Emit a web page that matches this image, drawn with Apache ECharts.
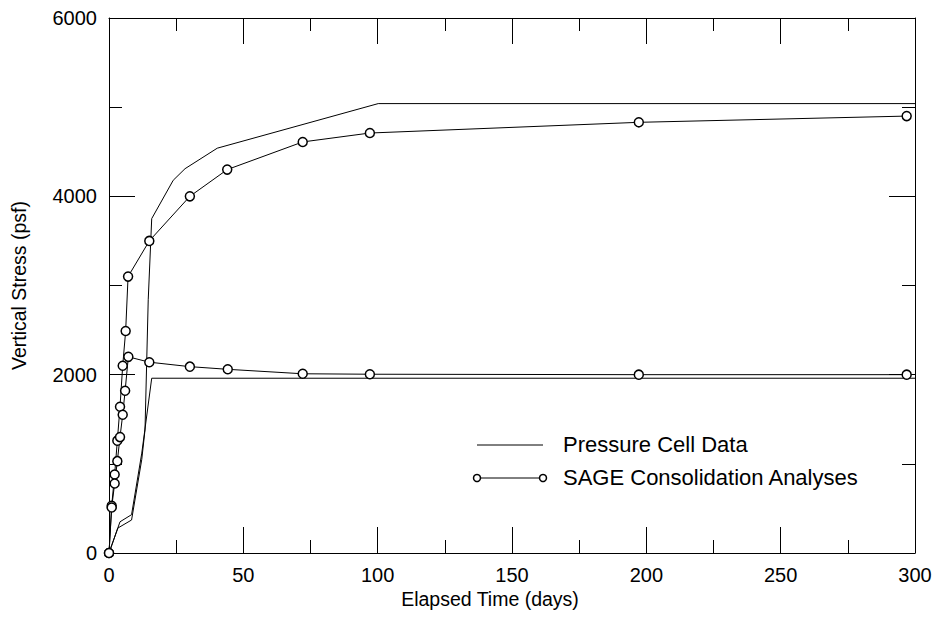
<!DOCTYPE html>
<html>
<head>
<meta charset="utf-8">
<script src="https://cdn.jsdelivr.net/npm/echarts@6/dist/echarts.min.js"></script>
<style>
  html, body { margin: 0; padding: 0; background: #fff; }
  #chart { width: 940px; height: 643px; }
</style>
</head>
<body>
<div id="chart"></div>
<script>
// pressure cell readings (two cells)
const cell1Days = [0, 3.3, 8.4, 12.2, 13.4, 14.6, 15.9, 23.9, 28.3, 40.3, 100.2, 300]
const cell1Stress = [0, 280, 370, 1050, 1380, 2840, 3750, 4180, 4310, 4540, 5040, 5040]
const cell2Days = [0, 4.1, 8.4, 12.2, 15.9, 300]
const cell2Stress = [0, 350, 430, 1120, 1960, 1960]

// SAGE consolidation analyses (two curves)
const sageUpperDays = [0, 1, 2.1, 3.1, 4.1, 5.1, 6.2, 7.1, 15, 30.1, 44, 72.1, 97.1, 197.2, 296.9]
const sageUpperStress = [0, 530, 880, 1260, 1640, 2100, 2490, 3100, 3500, 4000, 4300, 4610, 4710, 4830, 4900]
const sageLowerDays = [0, 1, 2.1, 3.1, 4.1, 5.1, 6, 7.2, 15, 30.1, 44.2, 72.1, 97.1, 197.2, 296.9]
const sageLowerStress = [0, 510, 780, 1030, 1300, 1550, 1820, 2200, 2140, 2090, 2060, 2010, 2005, 2000, 2000]

const xTicks = [0, 50, 100, 150, 200, 250, 300]
const yTicks = [0, 2000, 4000, 6000]

const FONT = 'Liberation Sans, Arial, sans-serif'

function pairs(xs, ys) {
  return xs.map((x, i) => [x, ys[i]])
}

function axisCommon(pos, min, max, interval, showLabel) {
  return {
    type: 'value',
    position: pos,
    min: min,
    max: max,
    interval: interval,
    axisLine: { show: true, onZero: false, lineStyle: { color: '#000', width: 1 } },
    axisTick: { show: true, inside: true, length: 26, lineStyle: { color: '#000', width: 1 } },
    minorTick: { show: true, splitNumber: 2, length: 13, lineStyle: { color: '#000', width: 1 } },
    splitLine: { show: false },
    axisLabel: {
      show: showLabel,
      color: '#000',
      fontSize: 20,
      fontFamily: FONT,
      margin: 12,
      formatter: (v) => String(v)
    }
  }
}

const chart = echarts.init(document.getElementById('chart'), null, { renderer: 'svg' })

const xBottom = axisCommon('bottom', xTicks[0], xTicks[xTicks.length - 1], 50, true)
xBottom.name = 'Elapsed Time (days)'
xBottom.nameLocation = 'middle'
xBottom.nameGap = 36
xBottom.nameMoveOverlap = false
xBottom.nameTextStyle = { color: '#000', fontSize: 19.5, fontFamily: FONT, padding: [0, 44, 0, 0] }

const yLeft = axisCommon('left', yTicks[0], yTicks[yTicks.length - 1], 2000, true)
yLeft.name = 'Vertical Stress (psf)'
yLeft.nameLocation = 'middle'
yLeft.nameGap = 80
yLeft.nameMoveOverlap = false
yLeft.nameTextStyle = { color: '#000', fontSize: 19.5, fontFamily: FONT }

const circleStyle = { color: '#fff', borderColor: '#000', borderWidth: 1.5 }

const option = {
  animation: false,
  backgroundColor: '#fff',
  grid: { left: 109, right: 25, top: 18, bottom: 90 },
  xAxis: [xBottom, axisCommon('top', xTicks[0], xTicks[xTicks.length - 1], 50, false)],
  yAxis: [yLeft, axisCommon('right', yTicks[0], yTicks[yTicks.length - 1], 2000, false)],
  series: [
    {
      name: 'SAGE Consolidation Analyses',
      type: 'line',
      data: pairs(sageUpperDays, sageUpperStress),
      symbol: 'circle',
      symbolSize: 9,
      itemStyle: circleStyle,
      lineStyle: { color: '#000', width: 1 }
    },
    {
      name: 'SAGE Consolidation Analyses',
      type: 'line',
      data: pairs(sageLowerDays, sageLowerStress),
      symbol: 'circle',
      symbolSize: 9,
      itemStyle: circleStyle,
      lineStyle: { color: '#000', width: 1 }
    },
    {
      name: 'Pressure Cell Data',
      type: 'line',
      data: pairs(cell1Days, cell1Stress),
      symbol: 'none',
      lineStyle: { color: '#000', width: 1 }
    },
    {
      name: 'Pressure Cell Data',
      type: 'line',
      data: pairs(cell2Days, cell2Stress),
      symbol: 'none',
      lineStyle: { color: '#000', width: 1 }
    }
  ],
  // legend drawn by hand so the SAGE sample has a circle at each end
  graphic: [
    { type: 'line', shape: { x1: 477, y1: 445, x2: 543, y2: 445 }, style: { stroke: '#000', lineWidth: 1 } },
    { type: 'text', left: 563, top: 433, style: { text: 'Pressure Cell Data', fill: '#000', font: '22px ' + FONT } },
    { type: 'line', shape: { x1: 481, y1: 478, x2: 539, y2: 478 }, style: { stroke: '#000', lineWidth: 1 } },
    { type: 'circle', shape: { cx: 477, cy: 478, r: 3.5 }, style: { fill: '#fff', stroke: '#000', lineWidth: 1.5 } },
    { type: 'circle', shape: { cx: 543, cy: 478, r: 3.5 }, style: { fill: '#fff', stroke: '#000', lineWidth: 1.5 } },
    { type: 'text', left: 563, top: 466, style: { text: 'SAGE Consolidation Analyses', fill: '#000', font: '22px ' + FONT } }
  ]
}

chart.setOption(option)
</script>
</body>
</html>
